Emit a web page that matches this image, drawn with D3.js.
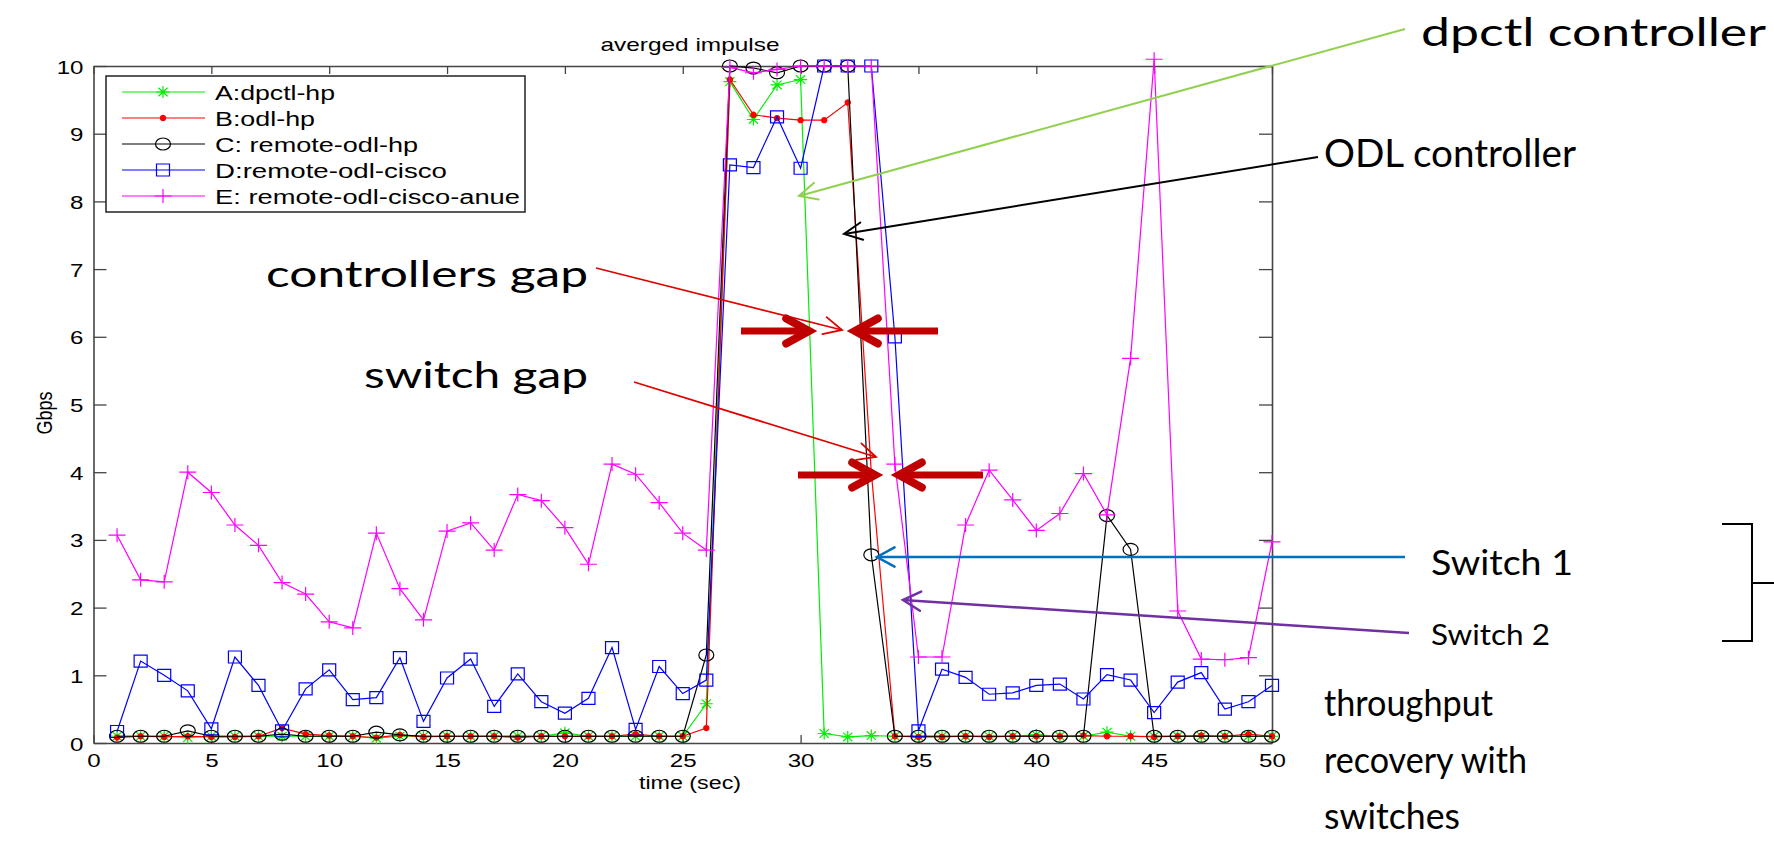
<!DOCTYPE html>
<html>
<head>
<meta charset="utf-8">
<script src="https://cdn.jsdelivr.net/npm/d3@7"></script>
<style>
  body { margin: 0; background: #fff; }
  svg { display: block; }
</style>
</head>
<body>
<div id="chart"></div>
<script>
// time (sec)
const times = [1, 2, 3, 4, 5, 6, 7, 8, 9, 10, 11, 12, 13, 14, 15, 16, 17, 18, 19, 20,
  21, 22, 23, 24, 25, 26, 27, 28, 29, 30, 31, 32, 33, 34, 35, 36, 37, 38, 39, 40,
  41, 42, 43, 44, 45, 46, 47, 48, 49, 50];

// Gbps per series
const dpctlHp = [0.1, 0.1, 0.1, 0.08, 0.1, 0.1, 0.1, 0.1, 0.1, 0.1, 0.1, 0.07, 0.1, 0.1, 0.1, 0.1, 0.1, 0.1, 0.1, 0.15,
  0.1, 0.1, 0.1, 0.1, 0.1, 0.58, 9.77, 9.21, 9.72, 9.8, 0.14, 0.09, 0.11, 0.1, 0.1, 0.1, 0.1, 0.1, 0.1, 0.12,
  0.1, 0.1, 0.16, 0.1, 0.1, 0.1, 0.1, 0.1, 0.1, 0.1];
const odlHp = [0.08, 0.1, 0.09, 0.1, 0.09, 0.09, 0.1, 0.22, 0.13, 0.11, 0.1, 0.08, 0.12, 0.09, 0.1, 0.1, 0.1, 0.08, 0.1, 0.1,
  0.1, 0.1, 0.13, 0.1, 0.1, 0.22, 9.8, 9.28, 9.23, 9.2, 9.2, 9.46, 4.0, 0.1, 0.09, 0.09, 0.1, 0.09, 0.1, 0.1,
  0.1, 0.11, 0.1, 0.1, 0.09, 0.1, 0.11, 0.1, 0.13, 0.1];
const remoteOdlHp = [0.1, 0.1, 0.1, 0.18, 0.1, 0.1, 0.1, 0.13, 0.1, 0.1, 0.1, 0.16, 0.12, 0.1, 0.1, 0.1, 0.1, 0.1, 0.1, 0.1,
  0.1, 0.1, 0.1, 0.1, 0.1, 1.3, 10, 9.97, 9.9, 10, 10, 10, 2.78, 0.1, 0.1, 0.1, 0.1, 0.1, 0.1, 0.1,
  0.1, 0.1, 3.36, 2.86, 0.1, 0.1, 0.1, 0.1, 0.1, 0.1];
const remoteOdlCisco = [0.17, 1.21, 1.0, 0.77, 0.21, 1.27, 0.85, 0.18, 0.8, 1.08, 0.64, 0.67, 1.26, 0.32, 0.96, 1.24, 0.54, 1.02, 0.61, 0.44,
  0.66, 1.41, 0.2, 1.13, 0.73, 0.93, 8.54, 8.5, 9.25, 8.49, 10, 10, 10, 6.0, 0.18, 1.09, 0.97, 0.72, 0.74, 0.85,
  0.87, 0.65, 1.01, 0.93, 0.45, 0.9, 1.04, 0.5, 0.61, 0.85];
const remoteOdlCiscoAnue = [3.07, 2.41, 2.38, 4.0, 3.7, 3.22, 2.92, 2.37, 2.2, 1.79, 1.7, 3.1, 2.28, 1.82, 3.13, 3.25, 2.85, 3.67, 3.58, 3.18,
  2.64, 4.12, 3.97, 3.55, 3.1, 2.85, 9.98, 9.9, 9.95, 10, 10, 10, 10, 4.12, 1.27, 1.27, 3.22, 4.03, 3.59, 3.14,
  3.39, 3.98, 3.37, 5.68, 10.1, 1.95, 1.24, 1.23, 1.26, 2.97];

const seriesNames = ["A:dpctl-hp", "B:odl-hp", "C: remote-odl-hp", "D:remote-odl-cisco", "E: remote-odl-cisco-anue"];
const seriesColors = ["#00ee00", "#ff0000", "#000000", "#0000ff", "#ff00ff"];
const seriesMarkers = ["star", "dot", "circle", "square", "plus"];
const seriesValues = [dpctlHp, odlHp, remoteOdlHp, remoteOdlCisco, remoteOdlCiscoAnue];

const xTicks = [0, 5, 10, 15, 20, 25, 30, 35, 40, 45, 50];
const yTicks = [0, 1, 2, 3, 4, 5, 6, 7, 8, 9, 10];

const W = 1774, H = 843;
const plot = { left: 93.5, right: 1272, top: 66, bottom: 743 };
const stretch = 1.27; // the figure text is wider than it is tall

const svg = d3.select("#chart").append("svg")
  .attr("width", W).attr("height", H)
  .style("font-family", "'Liberation Sans', Arial, sans-serif");

const x = d3.scaleLinear().domain([0, 50]).range([plot.left, plot.right]);
const y = d3.scaleLinear().domain([0, 10]).range([plot.bottom, plot.top]);

// axes (box on, ticks pointing in)
function styleAxis(g) {
  g.select(".domain").attr("stroke", "#454545").attr("stroke-width", 1.6);
  g.selectAll(".tick line").attr("stroke", "#454545").attr("stroke-width", 1.3);
}

svg.append("g")
  .attr("transform", "translate(" + plot.left + ",0)")
  .call(d3.axisLeft(y).tickValues(yTicks).tickSizeInner(-13).tickSizeOuter(0).tickFormat(d3.format("d")))
  .call(styleAxis)
  .call(g => g.selectAll(".tick text")
    .attr("x", -10 / stretch).attr("dy", null).attr("y", 7)
    .attr("text-anchor", "end")
    .attr("font-size", 19).attr("fill", "#000")
    .attr("font-family", "'Liberation Sans', Arial, sans-serif")
    .attr("transform", "scale(" + stretch + ",1)"));

svg.append("g")
  .attr("transform", "translate(" + plot.right + ",0)")
  .call(d3.axisRight(y).tickValues(yTicks).tickSizeInner(-13).tickSizeOuter(0).tickFormat(""))
  .call(styleAxis);

svg.append("g")
  .attr("transform", "translate(0," + plot.top + ")")
  .call(d3.axisTop(x).tickValues(xTicks).tickSizeInner(-8).tickSizeOuter(0).tickFormat(""))
  .call(styleAxis);

svg.append("g")
  .attr("transform", "translate(0," + plot.bottom + ")")
  .call(d3.axisBottom(x).tickValues(xTicks).tickSizeInner(-8).tickSizeOuter(0).tickFormat(d3.format("d")))
  .call(styleAxis)
  .call(g => g.selectAll(".tick text")
    .attr("y", 24).attr("dy", null)
    .attr("text-anchor", "middle")
    .attr("font-size", 19).attr("fill", "#000")
    .attr("font-family", "'Liberation Sans', Arial, sans-serif")
    .attr("transform", "scale(" + stretch + ",1)"));

// title and axis labels
svg.append("text")
  .attr("x", 690).attr("y", 51)
  .attr("text-anchor", "middle").attr("font-size", 19)
  .attr("textLength", 179).attr("lengthAdjust", "spacingAndGlyphs")
  .text("averged impulse");

svg.append("text")
  .attr("x", 690).attr("y", 789)
  .attr("text-anchor", "middle").attr("font-size", 18)
  .attr("textLength", 102).attr("lengthAdjust", "spacingAndGlyphs")
  .text("time (sec)");

svg.append("text")
  .attr("transform", "translate(52,413) rotate(-90) scale(1," + stretch + ")")
  .attr("text-anchor", "middle").attr("font-size", 18)
  .text("Gbps");

// markers
function markerPath(type) {
  if (type == "star") return "M-6.5,0H6.5M0,-6V6M-4.6,-4.3L4.6,4.3M-4.6,4.3L4.6,-4.3";
  if (type == "plus") return "M-8.5,0H8.5M0,-7V7";
  if (type == "circle") return "M-7.5,0A7.5,6 0 1,0 7.5,0A7.5,6 0 1,0 -7.5,0";
  if (type == "square") return "M-6.5,-6H6.5V6H-6.5Z";
  return "M-2.6,0A2.6,2.6 0 1,0 2.6,0A2.6,2.6 0 1,0 -2.6,0";
}

let line = d3.line().x(d => x(d.t)).y(d => y(d.v));

let series = svg.append("g");
seriesValues.forEach((vals, i) => {
  let pts = times.map((t, j) => ({ t: t, v: vals[j] }));
  let g = series.append("g");
  g.append("path")
    .datum(pts)
    .attr("d", line)
    .attr("fill", "none")
    .attr("stroke", seriesColors[i])
    .attr("stroke-width", 1.2);
  g.selectAll("path.mk")
    .data(pts)
    .join("path")
    .attr("class", "mk")
    .attr("transform", d => "translate(" + x(d.t) + "," + y(d.v) + ")")
    .attr("d", markerPath(seriesMarkers[i]))
    .attr("fill", seriesMarkers[i] == "dot" ? seriesColors[i] : "none")
    .attr("stroke", seriesColors[i])
    .attr("stroke-width", 1.2);
});

// legend
const legendWidths = [120, 100, 203, 232, 305];
let legend = svg.append("g");
legend.append("rect")
  .attr("x", 106).attr("y", 76).attr("width", 419).attr("height", 136)
  .attr("fill", "#fff").attr("stroke", "#222").attr("stroke-width", 1.5);
seriesNames.forEach((name, i) => {
  let ry = 92 + i * 26;
  legend.append("line")
    .attr("x1", 122).attr("x2", 205).attr("y1", ry).attr("y2", ry)
    .attr("stroke", seriesColors[i]).attr("stroke-width", 1.2);
  legend.append("path")
    .attr("transform", "translate(163," + ry + ")")
    .attr("d", markerPath(seriesMarkers[i]))
    .attr("fill", seriesMarkers[i] == "dot" ? seriesColors[i] : "none")
    .attr("stroke", seriesColors[i]).attr("stroke-width", 1.2);
  legend.append("text")
    .attr("x", 215).attr("y", ry + 8)
    .attr("font-size", 20)
    .attr("textLength", legendWidths[i])
    .attr("lengthAdjust", "spacingAndGlyphs")
    .text(name);
});

// slide annotations
let notes = svg.append("g").style("font-family", "Lato, 'Open Sans', sans-serif");

function note(txt, x0, y0, size, width) {
  notes.append("text")
    .attr("x", x0).attr("y", y0)
    .attr("font-size", size)
    .attr("textLength", width)
    .attr("lengthAdjust", "spacingAndGlyphs")
    .attr("fill", "#000")
    .text(txt);
}
note("dpctl controller", 1421, 46, 38, 345);
note("ODL controller", 1324, 167, 38, 252);
note("controllers gap", 266, 287, 36, 322);
note("switch gap", 364, 388, 36, 224);
note("Switch 1", 1431, 575, 34, 142);
note("Switch 2", 1431, 645, 29, 119);
note("throughput", 1324, 716, 36, 169);
note("recovery with", 1324, 773, 36, 203);
note("switches", 1324, 829, 36, 136);

function arrow(x1, y1, x2, y2, color, w, head, spread, hw) {
  let a = Math.atan2(y2 - y1, x2 - x1);
  let g = notes.append("g").attr("stroke", color).attr("fill", "none");
  g.append("line")
    .attr("x1", x1).attr("y1", y1).attr("x2", x2).attr("y2", y2)
    .attr("stroke-width", w);
  let p1 = [x2 - head * Math.cos(a - spread), y2 - head * Math.sin(a - spread)];
  let p2 = [x2 - head * Math.cos(a + spread), y2 - head * Math.sin(a + spread)];
  g.append("path")
    .attr("d", "M" + p1 + "L" + x2 + "," + y2 + "L" + p2)
    .attr("stroke-width", hw || w)
    .attr("stroke-linejoin", "miter")
    .attr("stroke-linecap", "round");
}

arrow(1405, 29, 799, 196, "#92d050", 2, 20, 0.45);
arrow(1318, 157, 844, 234, "#000", 2, 20, 0.45);
arrow(596, 268, 842, 330, "#e00000", 1.8, 20, 0.45);
arrow(634, 382, 876, 457, "#e00000", 1.8, 20, 0.45);
arrow(741, 331, 809, 331, "#c00000", 7, 26, 0.5, 8);
arrow(938, 331, 855, 331, "#c00000", 7, 26, 0.5, 8);
arrow(798, 475, 875, 475, "#c00000", 7, 26, 0.5, 8);
arrow(983, 475, 899, 475, "#c00000", 7, 26, 0.5, 8);
arrow(1405, 557, 877, 557, "#0070c0", 2.5, 20, 0.5);
arrow(1409, 633, 903, 600, "#7030a0", 2.5, 20, 0.5);

// bracket
notes.append("path")
  .attr("d", "M1722,524H1752V641H1722M1752,583H1774")
  .attr("fill", "none").attr("stroke", "#000").attr("stroke-width", 2);
</script>
</body>
</html>
